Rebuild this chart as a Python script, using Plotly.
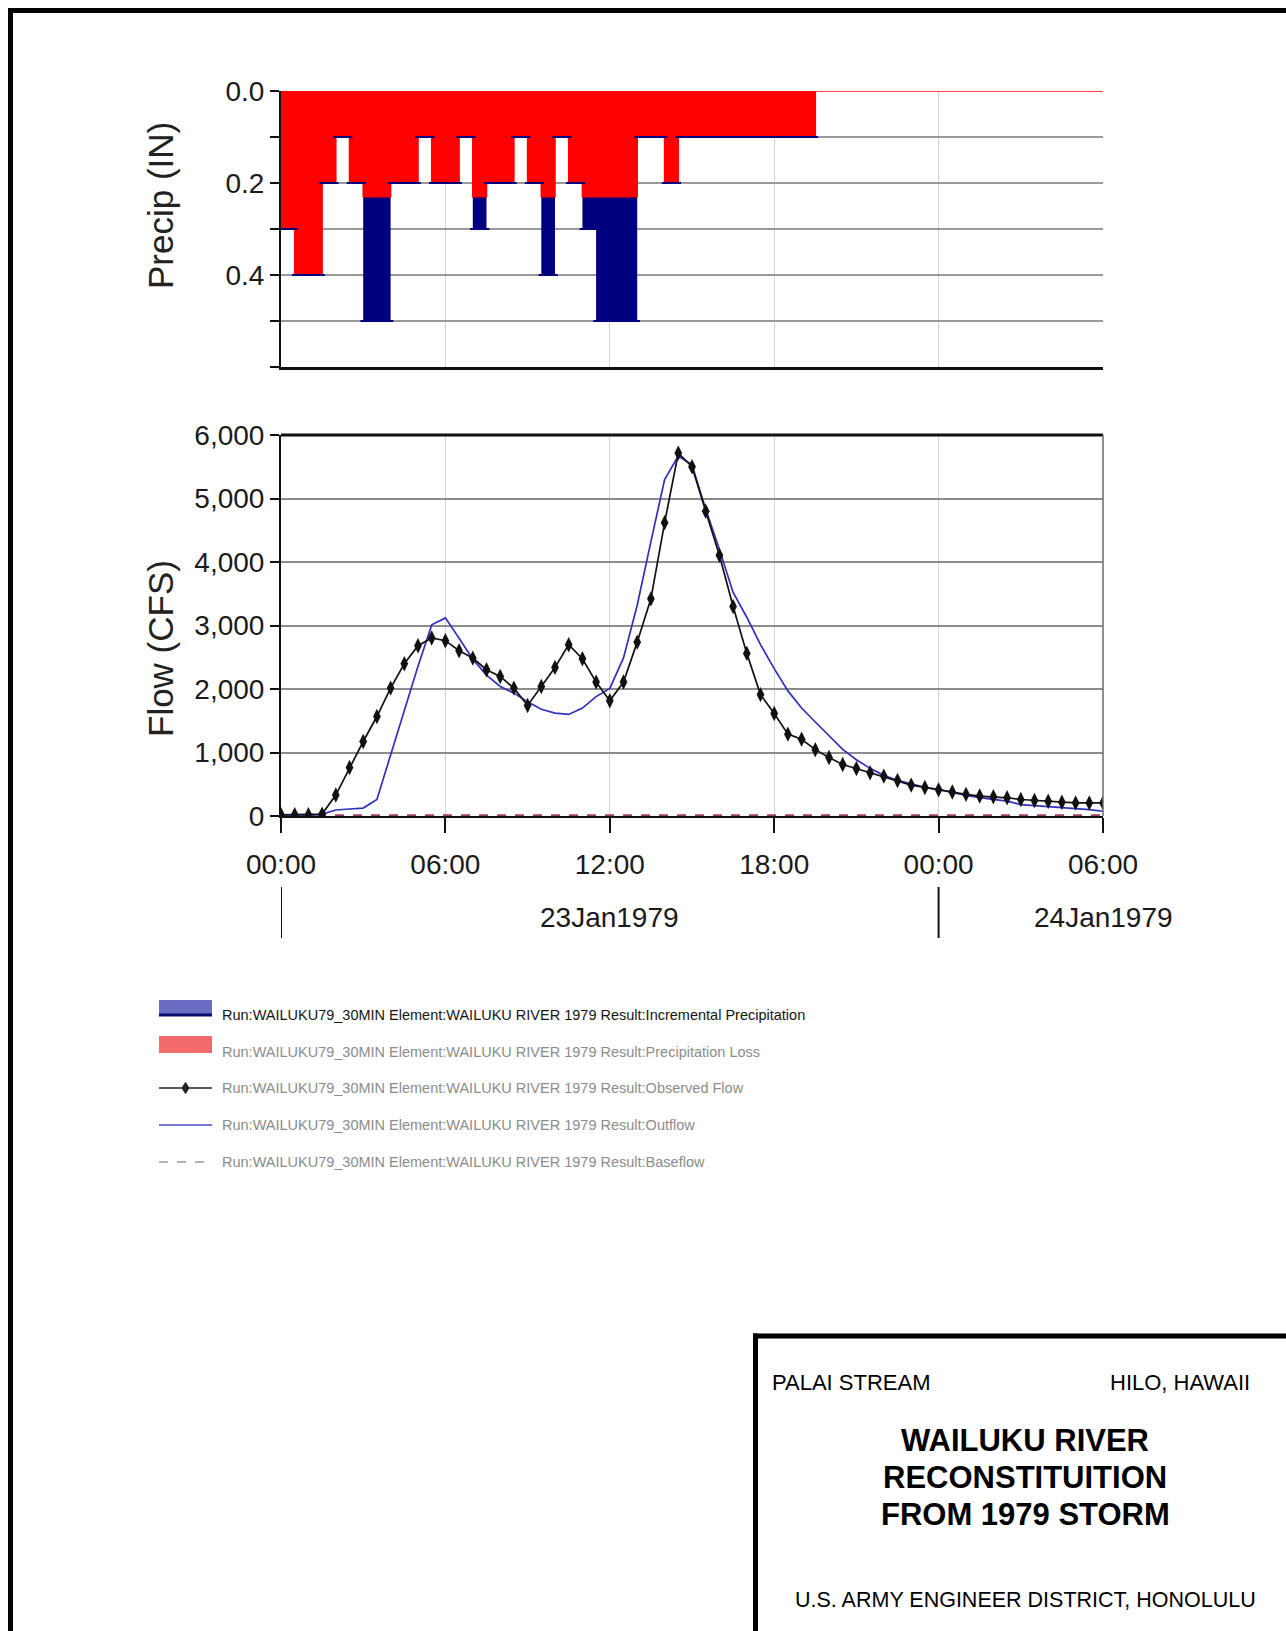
import pandas as pd
import plotly.graph_objects as go

W, H = 1286, 1631

# ---------------- data ----------------
START = "1979-01-23 00:00"
N_INT = 60  # 30-minute intervals, 23Jan1979 00:00 -> 24Jan1979 06:00

# incremental precipitation (in) per 30-min interval
precip_total = [0.3, 0.4, 0.4, 0.2, 0.1, 0.2, 0.5, 0.5, 0.2, 0.2,
                0.1, 0.2, 0.2, 0.1, 0.3, 0.2, 0.2, 0.1, 0.2, 0.4,
                0.1, 0.2, 0.3, 0.5, 0.5, 0.5, 0.1, 0.1, 0.2, 0.1,
                0.1, 0.1, 0.1, 0.1, 0.1, 0.1, 0.1, 0.1, 0.1, 0.0,
                0.0, 0.0, 0.0, 0.0, 0.0, 0.0, 0.0, 0.0, 0.0, 0.0,
                0.0, 0.0, 0.0, 0.0, 0.0, 0.0, 0.0, 0.0, 0.0, 0.0]
# precipitation loss (in) per 30-min interval
precip_loss = [0.3, 0.4, 0.4, 0.2, 0.1, 0.2, 0.23, 0.23, 0.2, 0.2,
               0.1, 0.2, 0.2, 0.1, 0.23, 0.2, 0.2, 0.1, 0.2, 0.23,
               0.1, 0.2, 0.23, 0.23, 0.23, 0.23, 0.1, 0.1, 0.2, 0.1,
               0.1, 0.1, 0.1, 0.1, 0.1, 0.1, 0.1, 0.1, 0.1, 0.0,
               0.0, 0.0, 0.0, 0.0, 0.0, 0.0, 0.0, 0.0, 0.0, 0.0,
               0.0, 0.0, 0.0, 0.0, 0.0, 0.0, 0.0, 0.0, 0.0, 0.0]

# flows (cfs) at 30-min steps, 61 values
observed_flow = [20, 20, 20, 30, 330, 763, 1173, 1567, 2014, 2398,
                 2682, 2803, 2761, 2603, 2487, 2303, 2198, 2014, 1741, 2040,
                 2340, 2698, 2477, 2109, 1815, 2110, 2738, 3420, 4617, 5715,
                 5500, 4800, 4105, 3300, 2561, 1912, 1614, 1289, 1208, 1045,
                 921, 812, 747, 682, 628, 558, 487, 449, 412, 379,
                 341, 314, 303, 287, 260, 244, 233, 217, 206, 206, 206]
outflow = [0, 0, 5, 30, 95, 110, 125, 260, 960, 1640,
           2360, 3010, 3120, 2800, 2470, 2220, 2040, 1935, 1800, 1680,
           1620, 1600, 1700, 1880, 2010, 2490, 3320, 4320, 5300, 5670,
           5530, 4830, 4200, 3520, 3130, 2700, 2320, 1970, 1700, 1480,
           1260, 1050, 885, 750, 640, 560, 505, 450, 420, 370,
           325, 290, 260, 235, 180, 165, 150, 140, 125, 100, 75]
baseflow = [10, 10, 10, 10, 10, 10, 10, 10, 10, 10,
            10, 10, 10, 10, 10, 10, 10, 10, 10, 10,
            10, 10, 10, 10, 10, 10, 10, 10, 10, 10,
            10, 10, 10, 10, 10, 10, 10, 10, 10, 10,
            10, 10, 10, 10, 10, 10, 10, 10, 10, 10,
            10, 10, 10, 10, 10, 10, 10, 10, 10, 10, 10]

hour_ticks = ["00:00", "06:00", "12:00", "18:00", "00:00", "06:00"]
day_labels = ["23Jan1979", "24Jan1979"]
prefix = "Run:WAILUKU79_30MIN Element:WAILUKU RIVER 1979 Result:"
series_names = ["Incremental Precipitation", "Precipitation Loss",
                "Observed Flow", "Outflow", "Baseflow"]
precip_ticks = [0.0, 0.1, 0.2, 0.3, 0.4, 0.5, 0.6]
precip_ticktext = ["0.0", "", "0.2", "", "0.4", "", ""]
flow_ticks = [0, 1000, 2000, 3000, 4000, 5000, 6000]

# ---------------- helpers ----------------
t0 = pd.Timestamp(START)
times = pd.date_range(t0, periods=N_INT + 1, freq="30min")
mids = times[:-1] + pd.Timedelta(minutes=15)
tick_times = pd.date_range(t0, periods=6, freq="6h")
t_end = times[-1]


def px(x):
    return x / W


def py(y):
    return 1 - y / H


ARIAL = "'Liberation Sans', Arial, sans-serif"
TICKF = "'Liberation Sans', Arial, sans-serif"

XD = [px(281), px(1103)]
PRE_D = [py(367), py(91)]
FLOW_D = [py(816), py(435)]

NAVY = "#00007f"
RED = "#ff0000"

fig = go.Figure()

# ---------------- precipitation panel ----------------
fig.add_trace(go.Scatter(
    x=times, y=precip_total + [precip_total[-1]], mode="lines",
    line=dict(shape="hv", width=0, color=NAVY), fill="tozeroy", fillcolor=NAVY,
    name=prefix + series_names[0], showlegend=False, xaxis="x", yaxis="y"))
fig.add_trace(go.Scatter(
    x=times, y=precip_loss + [precip_loss[-1]], mode="lines",
    line=dict(shape="hv", width=1.5, color=RED), fill="tozeroy", fillcolor=RED,
    name=prefix + series_names[1], showlegend=False, xaxis="x", yaxis="y"))
# thin navy bottom edge of each precipitation bar
fig.add_trace(go.Scatter(
    x=mids, y=[v if v > 0 else None for v in precip_total], mode="markers",
    marker=dict(symbol="line-ew", size=13.7, line=dict(width=2, color=NAVY)),
    showlegend=False, hoverinfo="skip", xaxis="x", yaxis="y"))

# ---------------- flow panel ----------------
fig.add_trace(go.Scatter(
    x=times, y=baseflow, mode="lines",
    line=dict(color="#a04060", width=2, dash="dash"),
    name=prefix + series_names[4], showlegend=False, xaxis="x2", yaxis="y2"))
fig.add_trace(go.Scatter(
    x=times, y=outflow, mode="lines",
    line=dict(color="#3030c0", width=1.7),
    name=prefix + series_names[3], showlegend=False, xaxis="x2", yaxis="y2"))
fig.add_trace(go.Scatter(
    x=times, y=observed_flow, mode="lines+markers",
    line=dict(color="#111111", width=1.7),
    marker=dict(symbol="diamond-tall", size=11, color="#111111"),
    name=prefix + series_names[2], showlegend=False, xaxis="x2", yaxis="y2"))

tickfont = dict(family=TICKF, size=28, color="#1a1a1a")

fig.update_layout(
    width=W, height=H, margin=dict(l=0, r=0, t=0, b=0, pad=0, autoexpand=False),
    paper_bgcolor="white", plot_bgcolor="white", showlegend=False,
    xaxis=dict(domain=XD, anchor="y", type="date", range=[t0, t_end],
               tickvals=tick_times, showticklabels=False, ticks="",
               showgrid=True, gridcolor="#d4d4d4", gridwidth=1.2, automargin=False,
               showline=True, linecolor="#111", linewidth=2.5, zeroline=False),
    yaxis=dict(domain=PRE_D, anchor="x", range=[0.6, 0], tickvals=precip_ticks,
               ticktext=precip_ticktext, ticks="outside", ticklen=9, tickwidth=1.5,
               tickcolor="#111", tickfont=tickfont, showgrid=True, gridcolor="#9a9a9a",
               gridwidth=1.5, showline=True, linecolor="#111", linewidth=2,
               zeroline=False, automargin=False),
    xaxis2=dict(domain=XD, anchor="y2", type="date", range=[t0, t_end],
                tickvals=tick_times, ticktext=hour_ticks, ticks="outside", ticklen=15,
                tickwidth=2, tickcolor="#111", tickfont=tickfont, ticklabelstandoff=7,
                showgrid=True, gridcolor="#d4d4d4", gridwidth=1.2,
                showline=True, linecolor="#111", linewidth=2, zeroline=False,
                layer="below traces", automargin=False),
    yaxis2=dict(domain=FLOW_D, anchor="x2", range=[0, 6000], tickvals=flow_ticks,
                tickformat=",", ticks="outside", ticklen=9, tickwidth=1.5,
                tickcolor="#111", tickfont=tickfont, showgrid=True,
                gridcolor="#8c8c8c", gridwidth=1.5, showline=True, linecolor="#111",
                linewidth=2, zeroline=False, automargin=False),
)

shapes = []
# flow panel top and right frame
shapes.append(dict(type="line", xref="x2 domain", yref="y2 domain", x0=0, x1=1, y0=1, y1=1,
                   line=dict(color="#111", width=3)))
shapes.append(dict(type="line", xref="x2 domain", yref="y2 domain", x0=1, x1=1, y0=0, y1=1,
                   line=dict(color="#6a6a6a", width=1.5)))
# long day-boundary ticks
for d in [times[0], times[48]]:
    shapes.append(dict(type="line", xref="x2", yref="paper", x0=d, x1=d,
                       y0=py(887), y1=py(938), line=dict(color="#111", width=2)))

# page frame
shapes.append(dict(type="line", xref="paper", yref="paper", x0=px(8), x1=1,
                   y0=py(10.5), y1=py(10.5), line=dict(color="black", width=5)))
shapes.append(dict(type="line", xref="paper", yref="paper", x0=px(10.5), x1=px(10.5),
                   y0=py(8), y1=0, line=dict(color="black", width=5)))
# title block frame
shapes.append(dict(type="line", xref="paper", yref="paper", x0=px(753), x1=1,
                   y0=py(1336), y1=py(1336), line=dict(color="black", width=5)))
shapes.append(dict(type="line", xref="paper", yref="paper", x0=px(755.5), x1=px(755.5),
                   y0=py(1333.5), y1=0, line=dict(color="black", width=5)))

# legend symbols
LX0, LX1 = 159, 212
rows_y = [1015, 1052, 1088, 1125, 1162]
shapes.append(dict(type="rect", xref="paper", yref="paper", x0=px(LX0), x1=px(LX1),
                   y0=py(1016), y1=py(1000), fillcolor="#6c6cc4", line=dict(width=0)))
shapes.append(dict(type="line", xref="paper", yref="paper", x0=px(LX0), x1=px(LX1),
                   y0=py(1015), y1=py(1015), line=dict(color="#0a0a70", width=3)))
shapes.append(dict(type="rect", xref="paper", yref="paper", x0=px(LX0), x1=px(LX1),
                   y0=py(1053), y1=py(1036), fillcolor="#f26a6a", line=dict(width=0)))
shapes.append(dict(type="line", xref="paper", yref="paper", x0=px(LX0), x1=px(LX1),
                   y0=py(rows_y[2]), y1=py(rows_y[2]), line=dict(color="#222", width=1.5)))
dx, dy, cx, cy = 3.5, 5.5, (LX0 + LX1) / 2, rows_y[2]
shapes.append(dict(type="path", xref="paper", yref="paper",
                   path=f"M {px(cx - dx)},{py(cy)} L {px(cx)},{py(cy - dy)} L {px(cx + dx)},{py(cy)} L {px(cx)},{py(cy + dy)} Z",
                   fillcolor="#222", line=dict(color="#222", width=1)))
shapes.append(dict(type="line", xref="paper", yref="paper", x0=px(LX0), x1=px(LX1),
                   y0=py(rows_y[3]), y1=py(rows_y[3]), line=dict(color="#4848c8", width=1.5)))
shapes.append(dict(type="line", xref="paper", yref="paper", x0=px(LX0), x1=px(LX1),
                   y0=py(rows_y[4]), y1=py(rows_y[4]), line=dict(color="#9a9a9a", width=1.5, dash="dash")))

fig.update_layout(shapes=shapes)

ann = []
# axis titles
ann.append(dict(text="Precip (IN)", xref="paper", yref="paper", x=px(160), y=py(206),
                textangle=-90, showarrow=False, font=dict(family=ARIAL, size=35, color="#222"),
                xanchor="center", yanchor="middle"))
ann.append(dict(text="Flow (CFS)", xref="paper", yref="paper", x=px(160), y=py(649),
                textangle=-90, showarrow=False, font=dict(family=ARIAL, size=35, color="#222"),
                xanchor="center", yanchor="middle"))
# day labels
for d, lab in zip([times[24], times[60]], day_labels):
    ann.append(dict(text=lab, xref="x2", yref="paper", x=d, y=py(917), showarrow=False,
                    font=dict(family=TICKF, size=28, color="#1a1a1a"),
                    xanchor="center", yanchor="middle"))
# legend texts
for i, (name, yy) in enumerate(zip(series_names, rows_y)):
    ann.append(dict(text=prefix + name, xref="paper", yref="paper", x=px(220), y=py(yy),
                    showarrow=False, xanchor="left", yanchor="middle",
                    font=dict(family=TICKF, size=14.5,
                              color="#151515" if i == 0 else "#8c8c8c")))
# title block
ann.append(dict(text="PALAI STREAM", xref="paper", yref="paper", x=px(770), y=py(1382),
                showarrow=False, xanchor="left", yanchor="middle",
                font=dict(family=ARIAL, size=22, color="black")))
ann.append(dict(text="HILO, HAWAII", xref="paper", yref="paper", x=px(1252), y=py(1382),
                showarrow=False, xanchor="right", yanchor="middle",
                font=dict(family=ARIAL, size=22, color="black")))
for txt, yy in zip(["WAILUKU RIVER", "RECONSTITUITION", "FROM 1979 STORM"], [1440, 1477, 1514]):
    ann.append(dict(text=f"<b>{txt}</b>", xref="paper", yref="paper", x=px(1025), y=py(yy),
                    showarrow=False, xanchor="center", yanchor="middle",
                    font=dict(family=ARIAL, size=31, color="black")))
ann.append(dict(text="U.S. ARMY ENGINEER DISTRICT, HONOLULU", xref="paper", yref="paper",
                x=px(1025), y=py(1600), showarrow=False, xanchor="center", yanchor="middle",
                font=dict(family=ARIAL, size=21.5, color="black")))

fig.update_layout(annotations=ann)

fig.write_html("out.html")
